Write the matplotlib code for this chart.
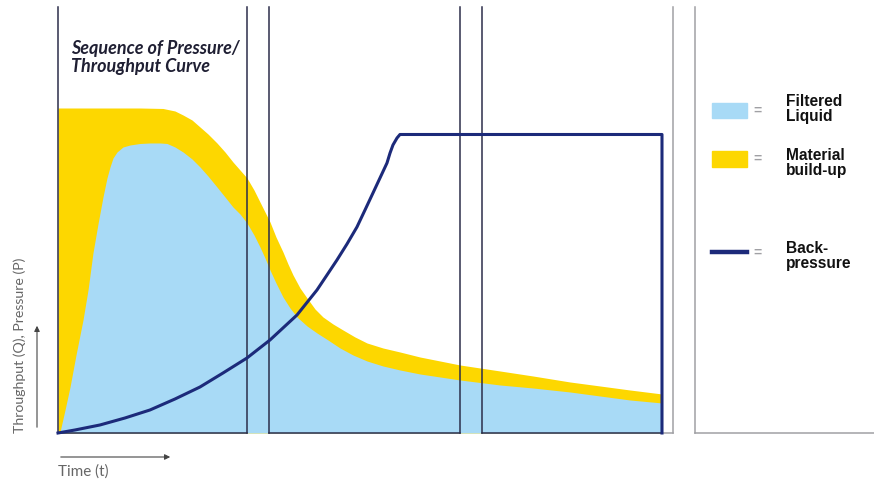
import matplotlib.pyplot as plt
from matplotlib.patches import Rectangle

# filtered liquid (blue area): time vs throughput
filtered_t = [0.0, 0.33, 1.16, 1.99, 2.98, 4.14, 4.97, 5.79, 6.62, 7.45, 8.11,
              8.61, 9.11, 9.77, 10.76, 11.92, 13.58, 15.23, 16.89, 18.05, 19.37,
              20.70, 22.19, 23.51, 24.83, 26.32, 27.65, 28.97, 30.13, 31.29,
              32.45, 33.44, 34.27, 35.10, 36.09, 37.25, 38.41, 39.57, 41.23,
              42.88, 44.70, 46.69, 48.84, 51.16, 53.81, 56.62, 59.93, 63.25,
              66.56, 73.18, 78.64, 84.77, 89.74, 94.70, 100.0]
filtered_q = [0.0, 0.33, 7.67, 15.33, 26.0, 37.67, 47.67, 60.0, 69.67, 78.67, 85.0,
              88.67, 91.67, 93.67, 95.33, 96.0, 96.5, 96.67, 96.67, 96.5, 95.33,
              93.67, 91.33, 88.67, 85.67, 82.0, 78.67, 75.33, 73.0, 70.0,
              66.0, 62.0, 58.33, 54.33, 50.0, 45.33, 41.67, 38.67, 35.67,
              33.33, 31.0, 28.33, 26.0, 24.0, 22.33, 21.0, 19.67, 18.67,
              17.67, 16.0, 15.0, 13.67, 12.33, 11.0, 10.0]

# upper edge of the material build-up (yellow band)
buildup_t = [0.0, 6.95, 13.58, 17.38, 19.37, 20.70, 22.19, 23.51, 24.83, 26.32,
             27.65, 28.97, 30.13, 31.29, 32.45, 33.44, 34.27, 35.10, 36.09, 37.25,
             38.08, 38.91, 40.07, 41.23, 42.55, 43.87, 45.53, 47.19, 49.17, 51.16,
             53.81, 56.62, 59.93, 63.25, 66.56, 73.18, 78.64, 84.77, 89.74, 94.70,
             100.0]
buildup_q = [108.33, 108.33, 108.33, 108.17, 107.33, 106.0, 104.33, 102.0, 99.67,
             96.67, 93.67, 90.33, 87.67, 85.0, 81.0, 77.0, 73.67, 70.33, 65.33,
             60.33, 56.33, 52.67, 48.33, 45.0, 41.33, 38.67, 36.33, 34.33, 32.0,
             30.0, 28.33, 27.0, 25.33, 24.0, 22.67, 20.67, 19.0, 17.0, 15.67,
             14.33, 13.0]

# back-pressure curve
pressure_t = [0.0, 2.81, 6.95, 11.09, 15.23, 19.37, 23.51, 27.32, 31.29, 35.10,
              39.57, 42.88, 44.54, 46.19, 47.85, 49.50, 50.83, 52.15, 53.31, 54.47,
              54.97, 55.46, 56.13, 56.62, 100.0, 100.0]
pressure_p = [0.0, 1.0, 2.67, 5.0, 7.67, 11.33, 15.33, 20.0, 25.0, 31.0,
              39.33, 47.67, 52.67, 57.67, 63.0, 68.67, 74.33, 80.0, 85.0, 90.0,
              93.3, 96.0, 98.33, 99.5, 99.5, 0.0]

# phases of the filter cycle (time)
phase_start = [0.0, 34.9, 70.2]
phase_end = [31.3, 66.6, 100.0]

legend_labels = ["Filtered\nLiquid", "Material\nbuild-up", "Back-\npressure"]

BLUE = "#a8daf6"
YELLOW = "#fdd700"
NAVY = "#1c2a7a"
BOX = "#2c2e4a"
GREY = "#a0a0a4"
W, H = 874, 480


def fx(px):
    return px / W


def fy(py):
    return 1 - py / H


fig = plt.figure(figsize=(W / 100, H / 100), dpi=100)
ax = fig.add_axes([0, 0, 1, 1])
ax.set_xlim(-9.60, 135.10)
ax.set_ylim(-15.67, 144.33)
ax.axis("off")

top = 142.0

ax.fill_between(buildup_t, 0, buildup_q, color=YELLOW, lw=0)
ax.fill_between(filtered_t, 0, filtered_q, color=BLUE, lw=0)

# phase boxes
for i, (s, e) in enumerate(zip(phase_start, phase_end)):
    ax.plot([s, s], [0, top], color=BOX, lw=1.1)
    if i < len(phase_start) - 1:
        ax.plot([e, e], [0, top], color=BOX, lw=1.1)
        ax.plot([s, e], [0, 0], color=BOX, lw=1.1)
    else:
        ax.plot([s, e], [0, 0], color=BOX, lw=1.1)
        ax.plot([e, 101.8], [0, 0], color=GREY, lw=1.1)

# outer frame lines (grey) and legend box
ax.plot([101.8, 101.8], [0, top], color=GREY, lw=1.1)
ax.plot([105.5, 105.5], [0, top], color=GREY, lw=1.1)
ax.plot([105.5, 136], [0, 0], color=GREY, lw=1.1)

ax.plot(pressure_t, pressure_p, color=NAVY, lw=2.2, solid_joinstyle="round")

# title
fig.text(fx(71), fy(40), "Sequence of Pressure/\nThroughput Curve",
         family="Lato", weight="bold", style="italic", size=13,
         color="#1f1f33", va="top", ha="left", linespacing=1.1)

# legend
fig.patches.append(Rectangle((fx(712), fy(118)), fx(35), 15 / H, color=BLUE,
                             transform=fig.transFigure, figure=fig))
fig.patches.append(Rectangle((fx(712), fy(167)), fx(35), 16 / H, color=YELLOW,
                             transform=fig.transFigure, figure=fig))
fig.lines.append(plt.Line2D([fx(712), fx(747)], [fy(252), fy(252)], color=NAVY,
                            lw=3.2, transform=fig.transFigure, figure=fig))
for py in [111, 159, 253]:
    fig.text(fx(757.5), fy(py), "=", color=GREY, size=10, weight="bold",
             ha="center", va="center", family="Liberation Sans")
for py, label in zip([94, 148, 241], legend_labels):
    fig.text(fx(786), fy(py), label, family="Liberation Sans", weight="bold",
             size=11.2, va="top", ha="left", linespacing=1.0, color="#111111")

# axis captions with arrows
fig.text(fx(20), fy(433), "Throughput (Q), Pressure (P)", rotation=90,
         family="Lato", size=10.2, color="#666666", ha="center", va="bottom")
ax.annotate("", xy=(fx(37), fy(323)), xytext=(fx(37), fy(430)),
            xycoords="figure fraction", textcoords="figure fraction",
            arrowprops=dict(arrowstyle="-|>", color="#444444", lw=0.8,
                            mutation_scale=8))
ax.annotate("", xy=(fx(173), fy(457)), xytext=(fx(58), fy(457)),
            xycoords="figure fraction", textcoords="figure fraction",
            arrowprops=dict(arrowstyle="-|>", color="#444444", lw=0.8,
                            mutation_scale=8))
fig.text(fx(58), fy(464), "Time (t)", family="Lato", size=11,
         color="#666666", ha="left", va="top")

fig.savefig("out.png", dpi=100)
